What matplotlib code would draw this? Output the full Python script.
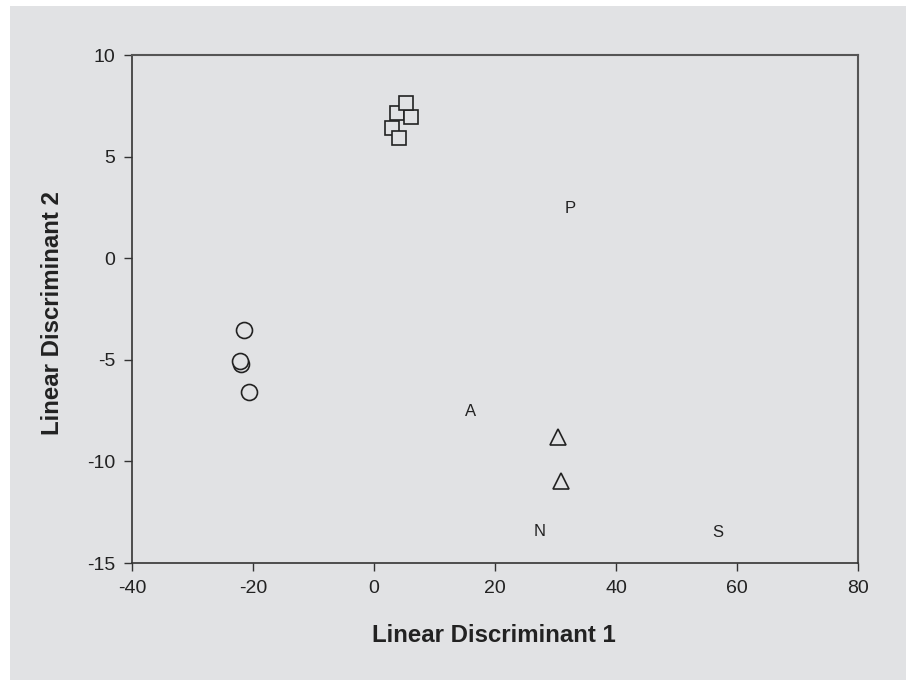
import matplotlib
matplotlib.use("Agg")
import matplotlib.pyplot as plt
from matplotlib.patches import Rectangle

plt.rcParams['font.family'] = ['Liberation Sans', 'DejaVu Sans']
plt.rcParams['axes.unicode_minus'] = False

bg = "#e1e2e4"

# group 1 (squares)
sq_x = [2.9, 4.2, 3.85, 6.05, 5.25]
sq_y = [6.39, 5.90, 7.13, 6.96, 7.65]
# group 2 (circles)
ci_x = [-21.5, -22.0, -22.2, -20.6]
ci_y = [-3.53, -5.2, -5.04, -6.6]
# group 3 (triangles)
tr_x = [30.35, 30.95]
tr_y = [-8.78, -10.96]
# letter labels
lab_text = ["P", "A", "N", "S"]
lab_x = [32.4, 16.0, 27.3, 56.9]
lab_y = [2.46, -7.52, -13.46, -13.49]

xticks = [-40, -20, 0, 20, 40, 60, 80]
yticks = [-15, -10, -5, 0, 5, 10]

fig = plt.figure(figsize=(9.06, 6.8), dpi=100)
fig.patch.set_facecolor("white")
fig.patches.append(Rectangle((10 / 906, 0), 1, 1 - 6 / 680, transform=fig.transFigure,
                             facecolor=bg, edgecolor="none", zorder=-10))

ax = fig.add_axes([132 / 906, 1 - 563 / 680, 726 / 906, 508 / 680])
ax.set_facecolor(bg)

ax.plot(sq_x, sq_y, "s", ms=9.8, mfc=bg, mec="#222222", mew=1.2, ls="none")
ax.plot(ci_x, ci_y, "o", ms=11.5, mfc=bg, mec="#222222", mew=1.2, ls="none")
ax.plot(tr_x, tr_y, "^", ms=12, mfc=bg, mec="#222222", mew=1.2, ls="none")
for t, x, y in zip(lab_text, lab_x, lab_y):
    ax.text(x, y, t, ha="center", va="center", fontsize=12, color="#222222")

ax.set_xlim(-40, 80)
ax.set_ylim(-15, 10)
ax.set_xticks(xticks)
ax.set_yticks(yticks)
ax.tick_params(direction="out", length=6, width=1, colors="#333333", labelsize=14,
               labelcolor="#222222", pad=6)
for s in ["left", "bottom"]:
    ax.spines[s].set_color("#333333")
    ax.spines[s].set_linewidth(1.2)
for s in ["top", "right"]:
    ax.spines[s].set_color("#555555")
    ax.spines[s].set_linewidth(1.5)

fig.text(494 / 906, 1 - 635 / 680, "Linear Discriminant 1", fontsize=17.3, fontweight="bold",
         color="#222222", ha="center", va="center")
fig.text(53 / 906, 1 - 313 / 680, "Linear Discriminant 2", fontsize=17.3, fontweight="bold",
         color="#222222", ha="center", va="center", rotation=90)

fig.savefig("out.png", dpi=100, facecolor=fig.get_facecolor())
